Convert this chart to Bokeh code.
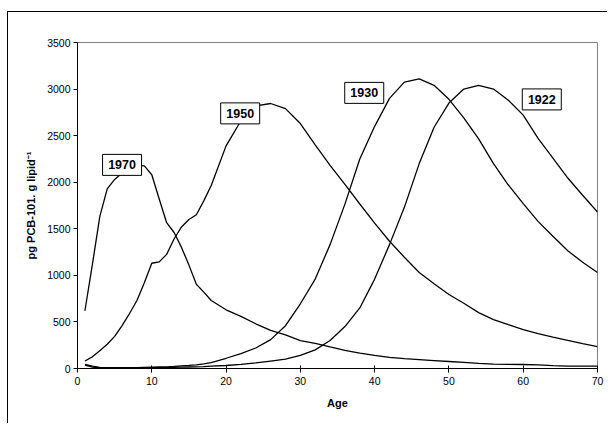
from bokeh.plotting import figure
from bokeh.models import Range1d, FixedTicker, ColumnDataSource
from bokeh.core.properties import value
from bokeh.embed import file_html
from bokeh.resources import INLINE

ages = [1, 2, 3, 4, 5, 6, 7, 8, 9, 10, 11, 12, 13, 14, 15, 16, 17, 18, 20, 22, 24, 26, 28,
        30, 32, 34, 36, 38, 40, 42, 44, 46, 48, 50, 52, 54, 56, 58, 60, 62, 64, 66, 68, 70]

c1970 = [620, 1115, 1630, 1929, 2030, 2100, 2150, 2180, 2175, 2080, 1820, 1565, 1460, 1300,
         1110, 905, 820, 730, 630, 560, 480, 410, 360, 300, 270, 232, 195, 165, 140, 120,
         105, 95, 85, 75, 65, 55, 47, 45, 43, 38, 30, 25, 25, 25]
c1950 = [80, 125, 190, 260, 345, 460, 590, 730, 920, 1130, 1145, 1225, 1390, 1520, 1600,
         1650, 1800, 1965, 2390, 2660, 2820, 2845, 2790, 2630, 2400, 2180, 1977, 1766, 1560,
         1366, 1195, 1030, 910, 795, 700, 600, 525, 470, 418, 375, 338, 302, 268, 236]
c1930 = [45, 25, 12, 10, 10, 10, 10, 10, 12, 14, 16, 18, 22, 28, 33, 40, 50, 62, 110, 160,
         220, 310, 460, 695, 960, 1330, 1765, 2250, 2600, 2900, 3075, 3110, 3040, 2890, 2690,
         2465, 2200, 1970, 1770, 1580, 1420, 1265, 1140, 1030]
c1922 = [35, 15, 6, 5, 5, 5, 5, 6, 7, 8, 9, 10, 12, 14, 16, 18, 21, 25, 32, 45, 60, 80, 100,
         140, 200, 300, 450, 650, 960, 1330, 1730, 2200, 2590, 2850, 3000, 3040, 3000, 2880,
         2720, 2470, 2258, 2045, 1860, 1680]

label_text = ["1970", "1950", "1930", "1922"]
label_x = [6.0, 21.9, 38.6, 62.5]
label_y = [2186, 2739, 2959, 2889]

x_ticks = [0, 10, 20, 30, 40, 50, 60, 70]
y_ticks = [0, 500, 1000, 1500, 2000, 2500, 3000, 3500]

FONT = "Liberation Sans"

p = figure(width=600, height=412, output_backend="svg", toolbar_location=None,
           x_range=Range1d(0, 70), y_range=Range1d(0, 3500),
           min_border_left=69, min_border_top=30, min_border_right=11, min_border_bottom=56)
p.styles = {"border-left": "1px solid black", "border-top": "1px solid black",
            "margin-top": "11px", "margin-left": "7px"}

p.outline_line_color = "#808080"
p.outline_line_width = 1
p.xgrid.visible = False
p.ygrid.visible = False
p.background_fill_color = "white"
p.border_fill_color = "white"

for ax in (p.xaxis[0], p.yaxis[0]):
    ax.axis_line_color = "black"
    ax.axis_line_width = 1
    ax.major_tick_line_color = "black"
    ax.minor_tick_line_color = None
    ax.major_label_text_font = FONT
    ax.major_label_text_font_size = "10.5px"
    ax.major_label_text_color = "black"
    ax.axis_label_text_font = FONT
    ax.axis_label_text_font_size = "11px"
    ax.axis_label_text_font_style = "bold"
    ax.axis_label_text_color = "black"

p.xaxis.ticker = FixedTicker(ticks=x_ticks)
p.yaxis.ticker = FixedTicker(ticks=y_ticks)
p.xaxis.major_tick_in = 3
p.xaxis.major_tick_out = 4
p.yaxis.major_tick_in = 0
p.yaxis.major_tick_out = 4
p.xaxis.major_label_standoff = 4
p.yaxis.major_label_standoff = 3
p.xaxis.axis_label = "Age"
p.yaxis.axis_label = "pg PCB-101. g lipid\u207b\u00b9"
p.xaxis.axis_label_standoff = 9
p.yaxis.axis_label_standoff = 7

for series in (c1922, c1930, c1950, c1970):
    p.line(ages, series, line_color="black", line_width=1.3)

src = ColumnDataSource(dict(x=label_x, y=label_y, t=label_text))
p.rect(x="x", y="y", width=39, height=21, width_units="screen", height_units="screen",
       fill_color="white", line_color="black", line_width=1, source=src)
p.text(x="x", y="y", text="t", text_font=value(FONT), text_font_size="12.5px",
       text_font_style="bold", text_align="center", text_baseline="middle",
       text_color="black", source=src)

open("out.html", "w").write(file_html(p, INLINE))
